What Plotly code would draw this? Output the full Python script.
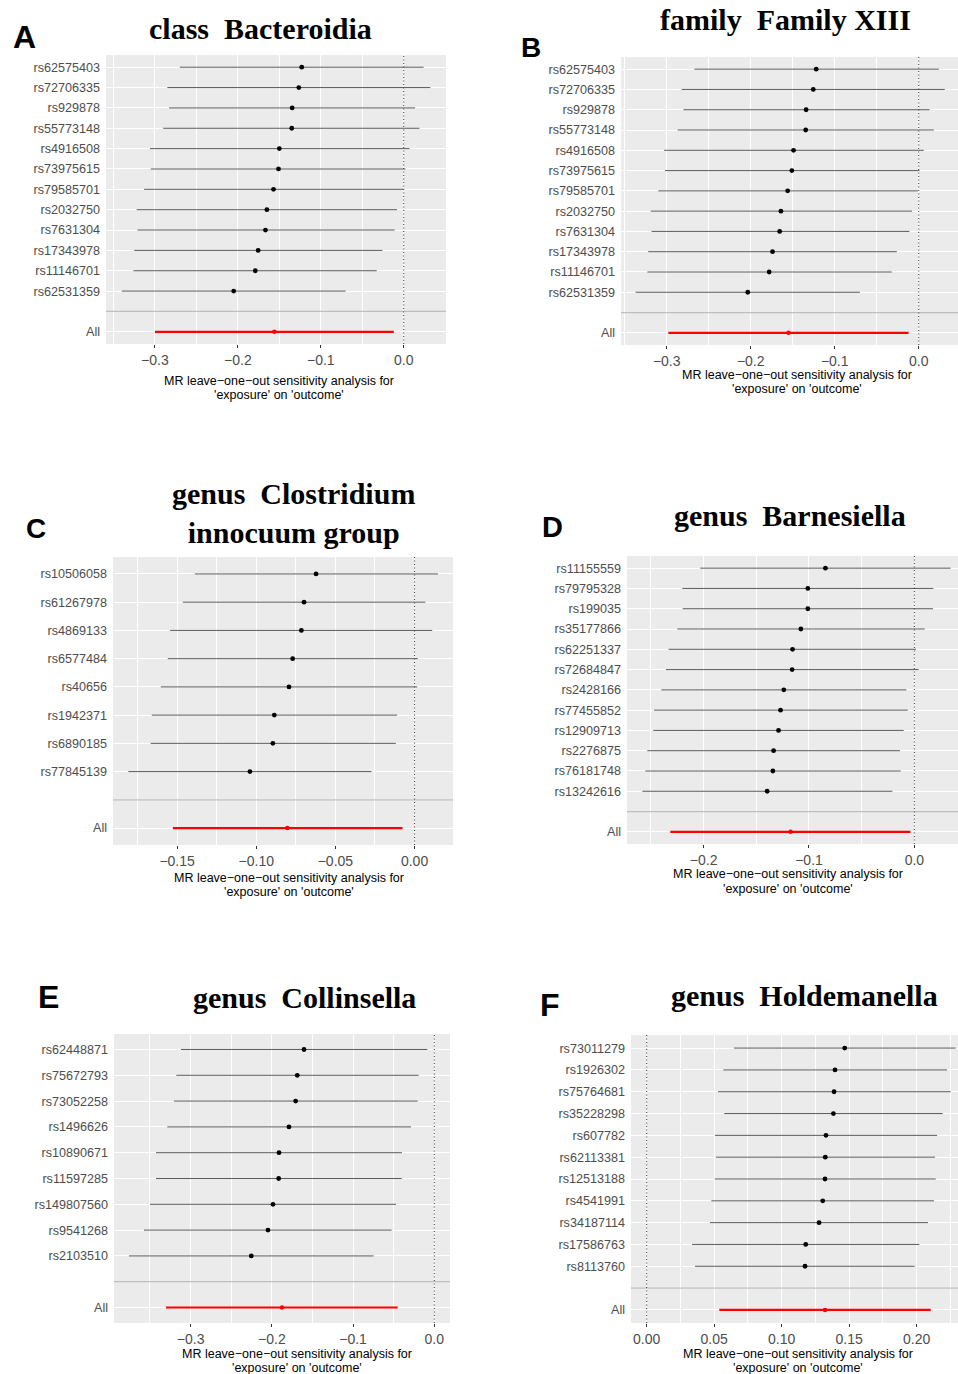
import plotly.graph_objects as go

# ---------------- DATA ----------------
snps_A = ["rs62575403", "rs72706335", "rs929878", "rs55773148", "rs4916508", "rs73975615",
          "rs79585701", "rs2032750", "rs7631304", "rs17343978", "rs11146701", "rs62531359"]
beta_A = [-0.123, -0.1265, -0.1345, -0.135, -0.150, -0.151, -0.157, -0.165, -0.1667, -0.1755, -0.179, -0.205]
lo_A = [-0.270, -0.285, -0.283, -0.290, -0.306, -0.305, -0.313, -0.322, -0.321, -0.325, -0.326, -0.340]
hi_A = [0.024, 0.032, 0.0137, 0.019, 0.007, 0.002, 0.000, -0.008, -0.011, -0.0257, -0.0325, -0.070]
all_A = [-0.156, -0.300, -0.012]

snps_B = ["rs62575403", "rs72706335", "rs929878", "rs55773148", "rs4916508", "rs73975615",
          "rs79585701", "rs2032750", "rs7631304", "rs17343978", "rs11146701", "rs62531359"]
beta_B = [-0.122, -0.1255, -0.134, -0.1345, -0.149, -0.151, -0.156, -0.164, -0.1655, -0.174, -0.178, -0.2035]
lo_B = [-0.267, -0.282, -0.280, -0.287, -0.303, -0.302, -0.310, -0.319, -0.318, -0.322, -0.323, -0.337]
hi_B = [0.024, 0.031, 0.013, 0.018, 0.006, 0.001, -0.001, -0.008, -0.011, -0.026, -0.032, -0.070]
all_B = [-0.155, -0.298, -0.012]

snps_C = ["rs10506058", "rs61267978", "rs4869133", "rs6577484", "rs40656", "rs1942371",
          "rs6890185", "rs77845139"]
beta_C = [-0.0622, -0.0698, -0.0715, -0.0770, -0.0793, -0.0886, -0.0895, -0.1040]
lo_C = [-0.1388, -0.1464, -0.1544, -0.1559, -0.1603, -0.1660, -0.1667, -0.1808]
hi_C = [0.0148, 0.0068, 0.0112, 0.0021, 0.0017, -0.0110, -0.0118, -0.0272]
all_C = [-0.0804, -0.1527, -0.0076]

snps_D = ["rs11155559", "rs79795328", "rs199035", "rs35177866", "rs62251337", "rs72684847",
          "rs2428166", "rs77455852", "rs12909713", "rs2276875", "rs76181748", "rs13242616"]
beta_D = [-0.0844, -0.1011, -0.1011, -0.1077, -0.1156, -0.1160, -0.1239, -0.1270, -0.1289, -0.1336, -0.1343, -0.1397]
lo_D = [-0.2032, -0.2202, -0.2199, -0.2250, -0.2332, -0.2357, -0.2401, -0.2471, -0.2477, -0.2534, -0.2553, -0.2581]
hi_D = [0.0344, 0.0180, 0.0177, 0.0098, 0.0016, 0.0041, -0.0076, -0.0063, -0.0101, -0.0136, -0.0130, -0.0209]
all_D = [-0.1175, -0.2316, -0.0038]

snps_E = ["rs62448871", "rs75672793", "rs73052258", "rs1496626", "rs10890671", "rs11597285",
          "rs149807560", "rs9541268", "rs2103510"]
beta_E = [-0.1604, -0.1687, -0.1707, -0.1789, -0.1912, -0.1916, -0.1986, -0.2048, -0.2253]
lo_E = [-0.3119, -0.3176, -0.3205, -0.3287, -0.3426, -0.3426, -0.3500, -0.3574, -0.3759]
hi_E = [-0.0086, -0.0193, -0.0205, -0.0287, -0.0398, -0.0402, -0.0472, -0.0525, -0.0747]
all_E = [-0.1875, -0.3303, -0.0451]

snps_F = ["rs73011279", "rs1926302", "rs75764681", "rs35228298", "rs607782", "rs62113381",
          "rs12513188", "rs4541991", "rs34187114", "rs17586763", "rs8113760"]
beta_F = [0.1467, 0.1395, 0.1388, 0.1383, 0.1328, 0.1323, 0.1321, 0.1304, 0.1277, 0.1178, 0.1173]
lo_F = [0.0647, 0.0568, 0.0528, 0.0575, 0.0506, 0.0514, 0.0504, 0.0479, 0.0469, 0.0336, 0.0358]
hi_F = [0.2289, 0.2225, 0.2252, 0.2193, 0.2151, 0.2136, 0.2141, 0.2128, 0.2084, 0.2020, 0.1985]
all_F = [0.1321, 0.0538, 0.2104]

titles = ["class\u00a0\u00a0Bacteroidia", "family\u00a0\u00a0Family XIII",
          "genus\u00a0\u00a0Clostridium<br>innocuum group", "genus\u00a0\u00a0Barnesiella",
          "genus\u00a0\u00a0Collinsella", "genus\u00a0\u00a0Holdemanella"]
letters = ["A", "B", "C", "D", "E", "F"]
xlabel1 = "MR leave\u2212one\u2212out sensitivity analysis for"
xlabel2 = "'exposure' on 'outcome'"

# ---------------- LAYOUT SPECS ----------------
W, H = 958, 1374
panels = [
    dict(snps=snps_A, b=beta_A, lo=lo_A, hi=hi_A, all=all_A, box=(106, 446, 55, 344),
         xr=(-0.359, 0.051), dt=0.1, fmt=".1f", title=(260, 28), letter=(24, 36.5, 32),
         axt=(279, 381, 395)),
    dict(snps=snps_B, b=beta_B, lo=lo_B, hi=hi_B, all=all_B, box=(621, 958, 57, 345),
         xr=(-0.3544, 0.0468), dt=0.1, fmt=".1f", title=(785, 20), letter=(531, 48, 28),
         axt=(797, 374.5, 388.5)),
    dict(snps=snps_C, b=beta_C, lo=lo_C, hi=hi_C, all=all_C, box=(113, 453, 557, 845),
         xr=(-0.1905, 0.0243), dt=0.05, fmt=".2f", title=(293, 513), letter=(36, 528, 28),
         axt=(289, 878, 892)),
    dict(snps=snps_D, b=beta_D, lo=lo_D, hi=hi_D, all=all_D, box=(627, 958, 556, 844),
         xr=(-0.2727, 0.0414), dt=0.1, fmt=".1f", title=(790, 515), letter=(552, 527.5, 29),
         axt=(788, 874.5, 888.5)),
    dict(snps=snps_E, b=beta_E, lo=lo_E, hi=hi_E, all=all_E, box=(114, 450, 1034, 1323),
         xr=(-0.3943, 0.0193), dt=0.1, fmt=".1f", title=(304, 997), letter=(48, 996.5, 32),
         axt=(297, 1353.5, 1367.5)),
    dict(snps=snps_F, b=beta_F, lo=lo_F, hi=hi_F, all=all_F, box=(631, 958, 1035, 1323),
         xr=(-0.0116, 0.2306), dt=0.05, fmt=".2f", title=(804, 995), letter=(550, 1005, 32),
         axt=(798, 1353.5, 1367.5)),
]

fig = go.Figure()
annotations = []
shapes = []
SANS = "Liberation Sans, Arial, sans-serif"
SERIF = "Liberation Serif, Times New Roman, serif"

for k, p in enumerate(panels, start=1):
    sfx = "" if k == 1 else str(k)
    xa, ya = "x" + sfx, "y" + sfx
    n = len(p["snps"])
    ypos = [n + 2 - i for i in range(n)]
    x0, x1, y0, y1 = p["box"]
    dom_x = [x0 / W, x1 / W]
    dom_y = [1 - y1 / H, 1 - y0 / H]

    b, lo, hi = p["b"], p["lo"], p["hi"]
    fig.add_trace(go.Scatter(
        x=b, y=ypos, mode="markers", xaxis=xa, yaxis=ya, showlegend=False,
        marker=dict(color="black", size=4.8),
        error_x=dict(type="data", symmetric=False,
                     array=[h - v for h, v in zip(hi, b)],
                     arrayminus=[v - l for v, l in zip(b, lo)],
                     width=0, thickness=1, color="#5c5c5c")))
    ab, al, ah = p["all"]
    fig.add_trace(go.Scatter(
        x=[ab], y=[1], mode="markers", xaxis=xa, yaxis=ya, showlegend=False,
        marker=dict(color="#ff0000", size=4.5),
        error_x=dict(type="data", symmetric=False, array=[ah - ab], arrayminus=[ab - al],
                     width=0, thickness=2.2, color="#ff0000")))

    fig.update_layout(**{
        ("xaxis" + sfx): dict(
            domain=dom_x, anchor=ya, range=list(p["xr"]), dtick=p["dt"], tick0=0,
            tickformat=p["fmt"], showgrid=True, gridcolor="white", gridwidth=1.1,
            zeroline=False, showline=False, ticks="outside", ticklen=3, tickwidth=1,
            tickcolor="#333333", tickfont=dict(family=SANS, size=14, color="#4d4d4d"),
            minor=dict(dtick=p["dt"] / 2, tick0=0, showgrid=True, gridcolor="white", gridwidth=0.55),
            fixedrange=True),
        ("yaxis" + sfx): dict(
            domain=dom_y, anchor=xa, range=[0.4, n + 2.6],
            tickmode="array", tickvals=ypos + [2, 1], ticktext=p["snps"] + ["", "All"],
            showgrid=True, gridcolor="white", gridwidth=1.1, zeroline=False, showline=False,
            ticks="", ticklabelstandoff=5,
            tickfont=dict(family=SANS, size=12.6, color="#4d4d4d"), fixedrange=True),
    })

    shapes.append(dict(type="line", xref=xa + " domain", yref=ya, x0=0, x1=1, y0=2, y1=2,
                       line=dict(color="#bebebe", width=1.3), layer="above"))
    shapes.append(dict(type="line", xref=xa, yref=ya + " domain", x0=0, x1=0, y0=0, y1=1,
                       line=dict(color="#222222", width=0.9, dash="1px,2.5px"), layer="above"))

    tx, ty = p["title"]
    annotations.append(dict(text="<b>" + titles[k - 1] + "</b>", x=tx / W, y=1 - ty / H,
                            xref="paper", yref="paper", xanchor="center", yanchor="middle",
                            showarrow=False, font=dict(family=SERIF, size=30, color="black")))
    lx, ly, ls = p["letter"]
    annotations.append(dict(text="<b>" + letters[k - 1] + "</b>", x=lx / W, y=1 - ly / H,
                            xref="paper", yref="paper", xanchor="center", yanchor="middle",
                            showarrow=False, font=dict(family=SANS, size=ls, color="black")))
    ax_, l1, l2 = p["axt"]
    for txt, yy in ((xlabel1, l1), (xlabel2, l2)):
        annotations.append(dict(text=txt, x=ax_ / W, y=1 - yy / H, xref="paper", yref="paper",
                                xanchor="center", yanchor="middle", showarrow=False,
                                font=dict(family=SANS, size=12.5, color="black")))

fig.update_layout(
    width=W, height=H, margin=dict(l=0, r=0, t=0, b=0),
    paper_bgcolor="white", plot_bgcolor="#ebebeb",
    annotations=annotations, shapes=shapes, showlegend=False,
)

fig.write_html("out.html")
